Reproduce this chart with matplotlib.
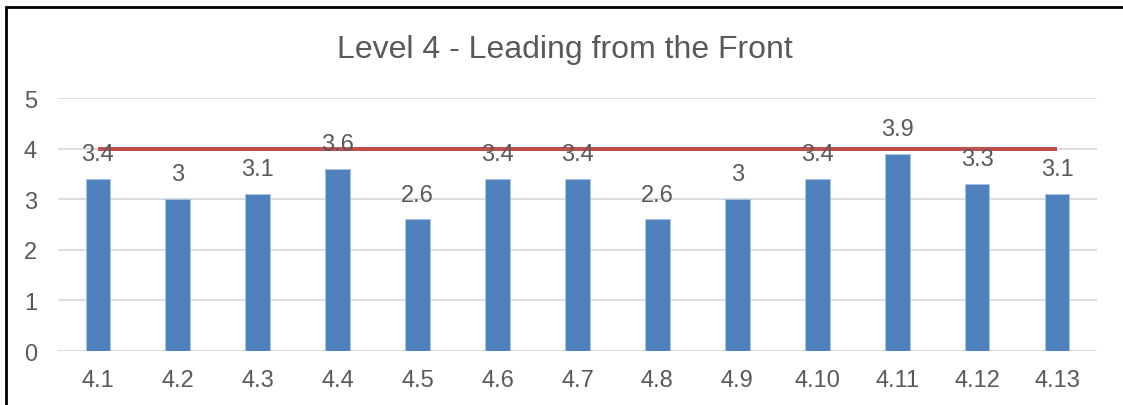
import matplotlib.pyplot as plt
from matplotlib.patches import Rectangle

plt.rcParams['font.family'] = ['Liberation Sans', 'DejaVu Sans']

categories = ['4.1', '4.2', '4.3', '4.4', '4.5', '4.6', '4.7',
              '4.8', '4.9', '4.10', '4.11', '4.12', '4.13']
scores = [3.4, 3.0, 3.1, 3.6, 2.6, 3.4, 3.4, 2.6, 3.0, 3.4, 3.9, 3.3, 3.1]
target = [4] * len(categories)
labels = ['3.4', '3', '3.1', '3.6', '2.6', '3.4', '3.4', '2.6', '3', '3.4', '3.9', '3.3', '3.1']

text_col = '#595959'

fig = plt.figure(figsize=(11.23, 4.06), dpi=100)
ax = fig.add_axes([0.0516, 0.133, 0.9252, 0.623])

x = list(range(len(categories)))
ax.bar(x, scores, width=0.31, color='#4F81BD', edgecolor='#A9C4E6', linewidth=0.6, zorder=2)
ax.plot(x, target, color='#C0504D', linewidth=2.9, zorder=3, solid_capstyle='butt')

for xi, v, lab in zip(x, scores, labels):
    ax.annotate(lab, (xi, v), xytext=(0, 10), textcoords='offset points',
                ha='center', va='bottom', fontsize=17, color=text_col, zorder=4)

ax.set_xlim(-0.5, len(categories) - 0.5)
ax.set_ylim(0, 5)
ax.set_yticks(range(6))
ax.set_xticks(x)
ax.set_xticklabels(categories)
ax.tick_params(axis='both', length=0, labelsize=17, labelcolor=text_col)
ax.tick_params(axis='x', pad=13)
ax.tick_params(axis='y', pad=15)
ax.grid(axis='y', color='#D9D9D9', linewidth=1.3, zorder=0)
for s in ax.spines.values():
    s.set_visible(False)

fig.text(0.503, 0.877, 'Level 4 - Leading from the Front', ha='center', va='center',
         fontsize=23, color=text_col)

# outer chart frame
fig.patches.append(Rectangle((6 / 1123, -0.1), 1.2, 1 - 8 / 406 + 0.1,
                             transform=fig.transFigure, fill=False,
                             edgecolor='black', linewidth=2))

fig.savefig('out.png', dpi=100)
